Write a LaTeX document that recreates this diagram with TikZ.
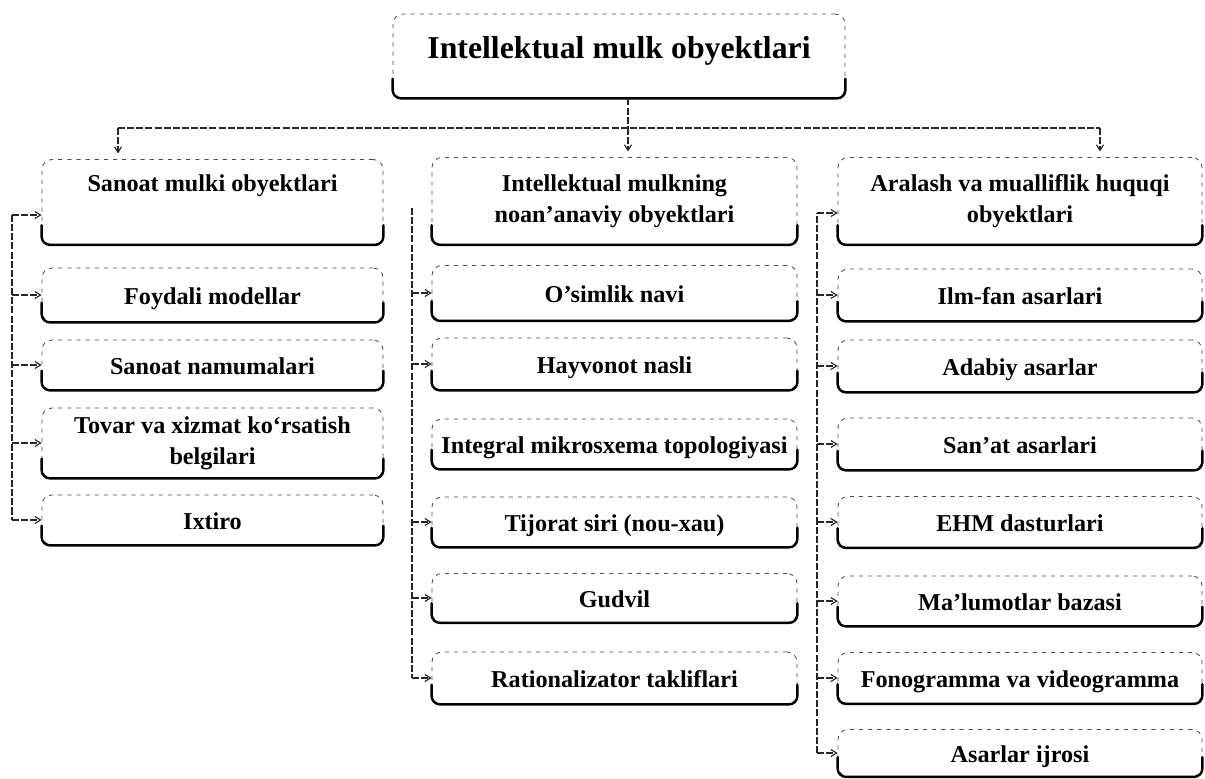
\documentclass[tikz,border=0pt]{standalone}
\usepackage{fontspec}
\setmainfont{Liberation Serif}
\usetikzlibrary{arrows.meta}
\tikzset{
  bx/.style={draw=black!70, line width=0.6pt, dash pattern=on 3pt off 3.5pt,
    rounded corners=7pt, align=center, inner sep=2pt,
    font=\bfseries\fontsize{17.2}{22}\selectfont, text=black,
    text height=18pt, text depth=4pt},
  hd/.style={text height=, text depth=},
  sz/.style n args={2}{minimum width=#1*0.025cm, minimum height=#2*0.025cm},
  ln/.style={draw=black!85, line width=0.8pt, dash pattern=on 5pt off 1.5pt},
  arr/.style={ln, -{Straight Barb[length=4pt,width=5pt]}},
  bot/.style={draw=black, line width=1.7pt, solid, rounded corners=6pt, line cap=round}}
\begin{document}
\begin{tikzpicture}[x=0.025cm,y=-0.025cm]
\useasboundingbox (0,0) rectangle (1205,778);

% title
\node[bx, sz={452}{84}, font=\bfseries\fontsize{22.6}{27}\selectfont, text height=15pt, text depth=12pt] (T) at (619,56) {Intellektual mulk obyektlari};

% column 1
\node[bx, sz={341}{85}, text height=11.5pt, text depth=26pt] (h1) at (212.5,202) {Sanoat mulki obyektlari};
\node[bx, sz={341}{54}] (c1a) at (212.5,295) {Foydali modellar};
\node[bx, sz={341}{50}] (c1b) at (212.5,365) {Sanoat namumalari};
\node[bx, hd, sz={341}{70}] (c1c) at (212.5,443) {Tovar va xizmat ko`rsatish\\belgilari};
\node[bx, sz={341}{50}] (c1d) at (212.5,520) {Ixtiro};

% column 2
\node[bx, hd, sz={365}{87}] (h2) at (614.5,201) {Intellektual mulkning\\noan'anaviy obyektlari};
\node[bx, sz={365}{55}] (c2a) at (614.5,293) {O'simlik navi};
\node[bx, sz={365}{52}] (c2b) at (614.5,364) {Hayvonot nasli};
\node[bx, sz={365}{50}] (c2c) at (614.5,444) {Integral mikrosxema topologiyasi};
\node[bx, sz={365}{50}] (c2d) at (614.5,522) {Tijorat siri (nou-xau)};
\node[bx, sz={365}{49}] (c2e) at (614.5,598) {Gudvil};
\node[bx, sz={365}{52}] (c2f) at (614.5,678) {Rationalizator takliflari};

% column 3
\node[bx, hd, sz={364}{87}] (h3) at (1020,201) {Aralash va mualliflik huquqi\\obyektlari};
\node[bx, sz={364}{52}] (c3a) at (1020,295) {Ilm-fan asarlari};
\node[bx, sz={364}{52}] (c3b) at (1020,366) {Adabiy asarlar};
\node[bx, sz={364}{52}] (c3c) at (1020,444) {San'at asarlari};
\node[bx, sz={364}{51}] (c3d) at (1020,522) {EHM dasturlari};
\node[bx, sz={364}{50}] (c3e) at (1020,601) {Ma'lumotlar bazasi};
\node[bx, sz={364}{51}] (c3f) at (1020,678) {Fonogramma va videogramma};
\node[bx, sz={364}{47}] (c3g) at (1020,753) {Asarlar ijrosi};

% thick bottom edges
\foreach \n in {T,h1,c1a,c1b,c1c,c1d,h2,c2a,c2b,c2c,c2d,c2e,c2f,h3,c3a,c3b,c3c,c3d,c3e,c3f,c3g}
  \draw[bot] ([yshift=14pt]\n.south west) -- (\n.south west) -- (\n.south east) -- ([yshift=14pt]\n.south east);

% top bus
\coordinate (busL) at (118,128);
\coordinate (busM) at (628,128);
\coordinate (busR) at (1100,128);
\draw[ln] (T.south -| busM) -- (busM);
\draw[ln] (busL) -- (busR);
\draw[arr, shorten >=4pt] (busL) -- (busL |- h1.north);
\draw[arr, shorten >=4pt] (busM) -- (busM |- h2.north);
\draw[arr, shorten >=4pt] (busR) -- (busR |- h3.north);

% column 1 spine
\coordinate (s1t) at (12,215);
\coordinate (s1b) at (12,520);
\draw[ln] (s1t) -- (s1b);
\draw[arr] (s1t) -- (s1t -| h1.west);
\foreach \n in {c1a,c1b,c1c,c1d}
  \draw[arr] (s1t |- \n.west) -- (\n.west);

% column 2 spine
\coordinate (s2t) at (412,208);
\coordinate (s2b) at (412,678);
\draw[ln] (s2t) -- (s2b);
\foreach \n in {c2a,c2b,c2d,c2e,c2f}
  \draw[arr] (s2t |- \n.west) -- (\n.west);

% column 3 spine
\coordinate (s3t) at (817,213);
\coordinate (s3b) at (817,753);
\draw[ln] (s3b) -- (s3t);
\draw[arr] (s3t) -- (s3t -| h3.west);
\foreach \n in {c3a,c3b,c3c,c3d,c3e,c3f,c3g}
  \draw[arr] (s3t |- \n.west) -- (\n.west);
\end{tikzpicture}
\end{document}
